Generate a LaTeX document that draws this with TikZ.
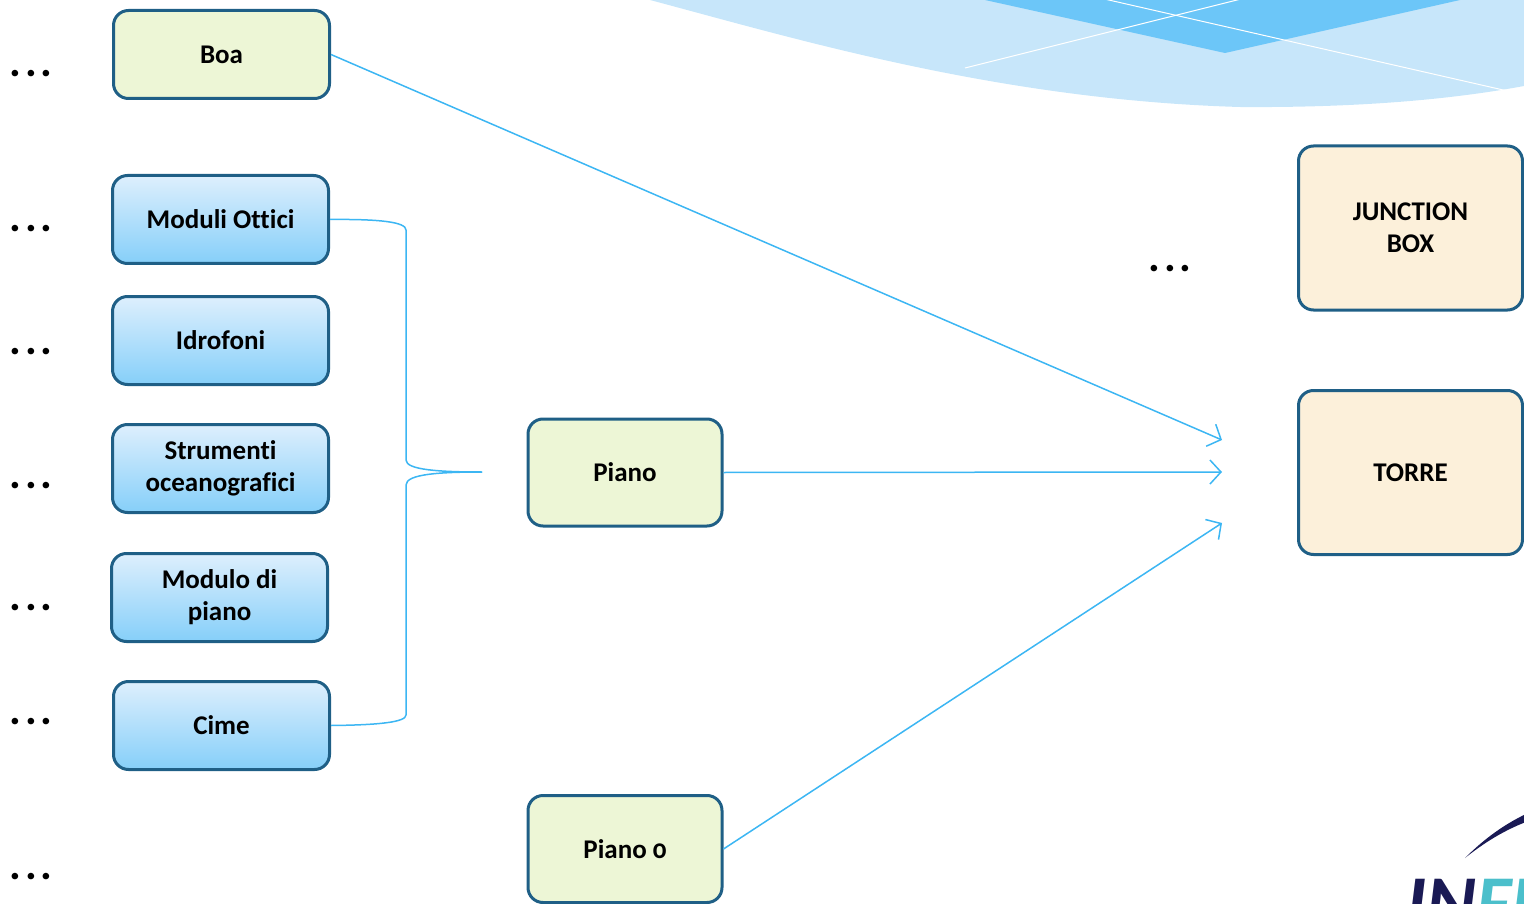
\documentclass[tikz,border=0pt]{standalone}
\usepackage{fontspec}
\setmainfont{Carlito}[Ligatures={NoCommon}, Numbers=OldStyle]
\usetikzlibrary{arrows.meta}
\definecolor{bordc}{HTML}{1F5F86}
\definecolor{greenf}{HTML}{EDF6D6}
\definecolor{bluetop}{HTML}{DDEFFD}
\definecolor{bluebot}{HTML}{86CFF9}
\definecolor{creamf}{HTML}{FCF0DA}
\definecolor{linec}{HTML}{3CB6F3}
\definecolor{bglight}{HTML}{C7E6FA}
\definecolor{bgdark}{HTML}{6CC6F8}
\definecolor{navy}{HTML}{1A1A55}
\definecolor{tealc}{HTML}{4BBFCB}
\tikzset{
  box/.style={draw=bordc, line width=3pt, rounded corners=15pt, align=center,
    font=\fontsize{27}{32}\selectfont\bfseries, text=black, inner sep=0pt},
  greenbox/.style={box, fill=greenf, minimum width=194pt, minimum height=107pt},
  bluebox/.style={box, top color=bluetop, bottom color=bluebot, minimum width=216pt, minimum height=88pt},
  creambox/.style={box, fill=creamf, minimum width=224pt, minimum height=164pt},
  conn/.style={draw=linec, line width=1.5pt},
  arr/.style={conn, -{Straight Barb[length=11pt,width=24pt,line width=1.5pt]}},
  dots/.style={font=\fontsize{44}{44}\selectfont\bfseries, anchor=base, inner sep=0pt}
}
\newcommand{\dotrow}{.\hspace{4pt}.\hspace{4pt}.}
\begin{document}
\begin{tikzpicture}[x=1pt,y=-1pt]
\useasboundingbox (0,0) rectangle (1524,904);
% background decoration
\fill[bglight] (650,0) .. controls (800,40) and (1000,100) .. (1240,107)
  .. controls (1380,108) and (1470,96) .. (1524,86) -- (1524,0) -- cycle;
\fill[bgdark] (985,0) -- (1225,53) -- (1460,0) -- cycle;
\draw[white, line width=1pt] (965,68) -- (1245,-2);
\draw[white, line width=1pt] (1100,-2) -- (1512,92);
% logo
\fill[navy] (1465,858) .. controls (1485,838) and (1505,824) .. (1526,814)
  -- (1526,822) .. controls (1505,830) and (1485,842) .. (1465,858) -- cycle;
\node[anchor=base west, inner sep=0pt, font=\fontsize{76}{76}\selectfont\bfseries\itshape, text=navy]
  (logo) at (1406,928) {IN\textcolor{tealc}{FN}};
% nodes
\node[greenbox, minimum width=216pt, minimum height=88pt] (boa) at (221.5,54.5) {Boa};
\node[bluebox] (mo) at (220.5,219.5) {Moduli Ottici};
\node[bluebox] (idr) at (220.5,340.5) {Idrofoni};
\node[bluebox] (str) at (220.5,468.5) {Strumenti\\oceanografici};
\node[bluebox] (mdp) at (219.5,597.5) {Modulo di\\piano};
\node[bluebox] (cime) at (221.5,725.5) {Cime};
\node[greenbox] (piano) at (625,472.5) {Piano};
\node[greenbox] (piano0) at (625,849) {Piano 0};
\node[creambox] (jb) at (1410.5,228) {JUNCTION\\BOX};
\node[creambox] (torre) at (1410.5,472.5) {TORRE};
% dots
\foreach \y/\n in {77/d1,232/d2,354/d3,488/d4,610/d5,724/d6,879/d7}
  \node[dots] (\n) at (31,\y) {\dotrow};
\node[dots] (d8) at (1170,272) {\dotrow};
% brace
\coordinate (btip) at (482,472);
\coordinate (bt1) at (406,230);
\coordinate (bt2) at (406,460);
\coordinate (bb1) at (406,715);
\coordinate (bb2) at (406,485);
\draw[conn] (mo.east) .. controls (380,219) and (406,222) .. (bt1) -- (bt2)
  .. controls (406,470) and (440,472) .. (btip);
\draw[conn] (cime.east) .. controls (380,725) and (406,722) .. (bb1) -- (bb2)
  .. controls (406,474) and (440,472) .. (btip);
% arrows
\coordinate (a1) at (1222,440);
\coordinate (a2) at (1222,472);
\coordinate (a3) at (1222,523);
\draw[arr] (boa.east) -- (a1);
\draw[arr] (piano.east) -- (a2);
\draw[arr] (piano0.east) -- (a3);
\end{tikzpicture}
\end{document}
